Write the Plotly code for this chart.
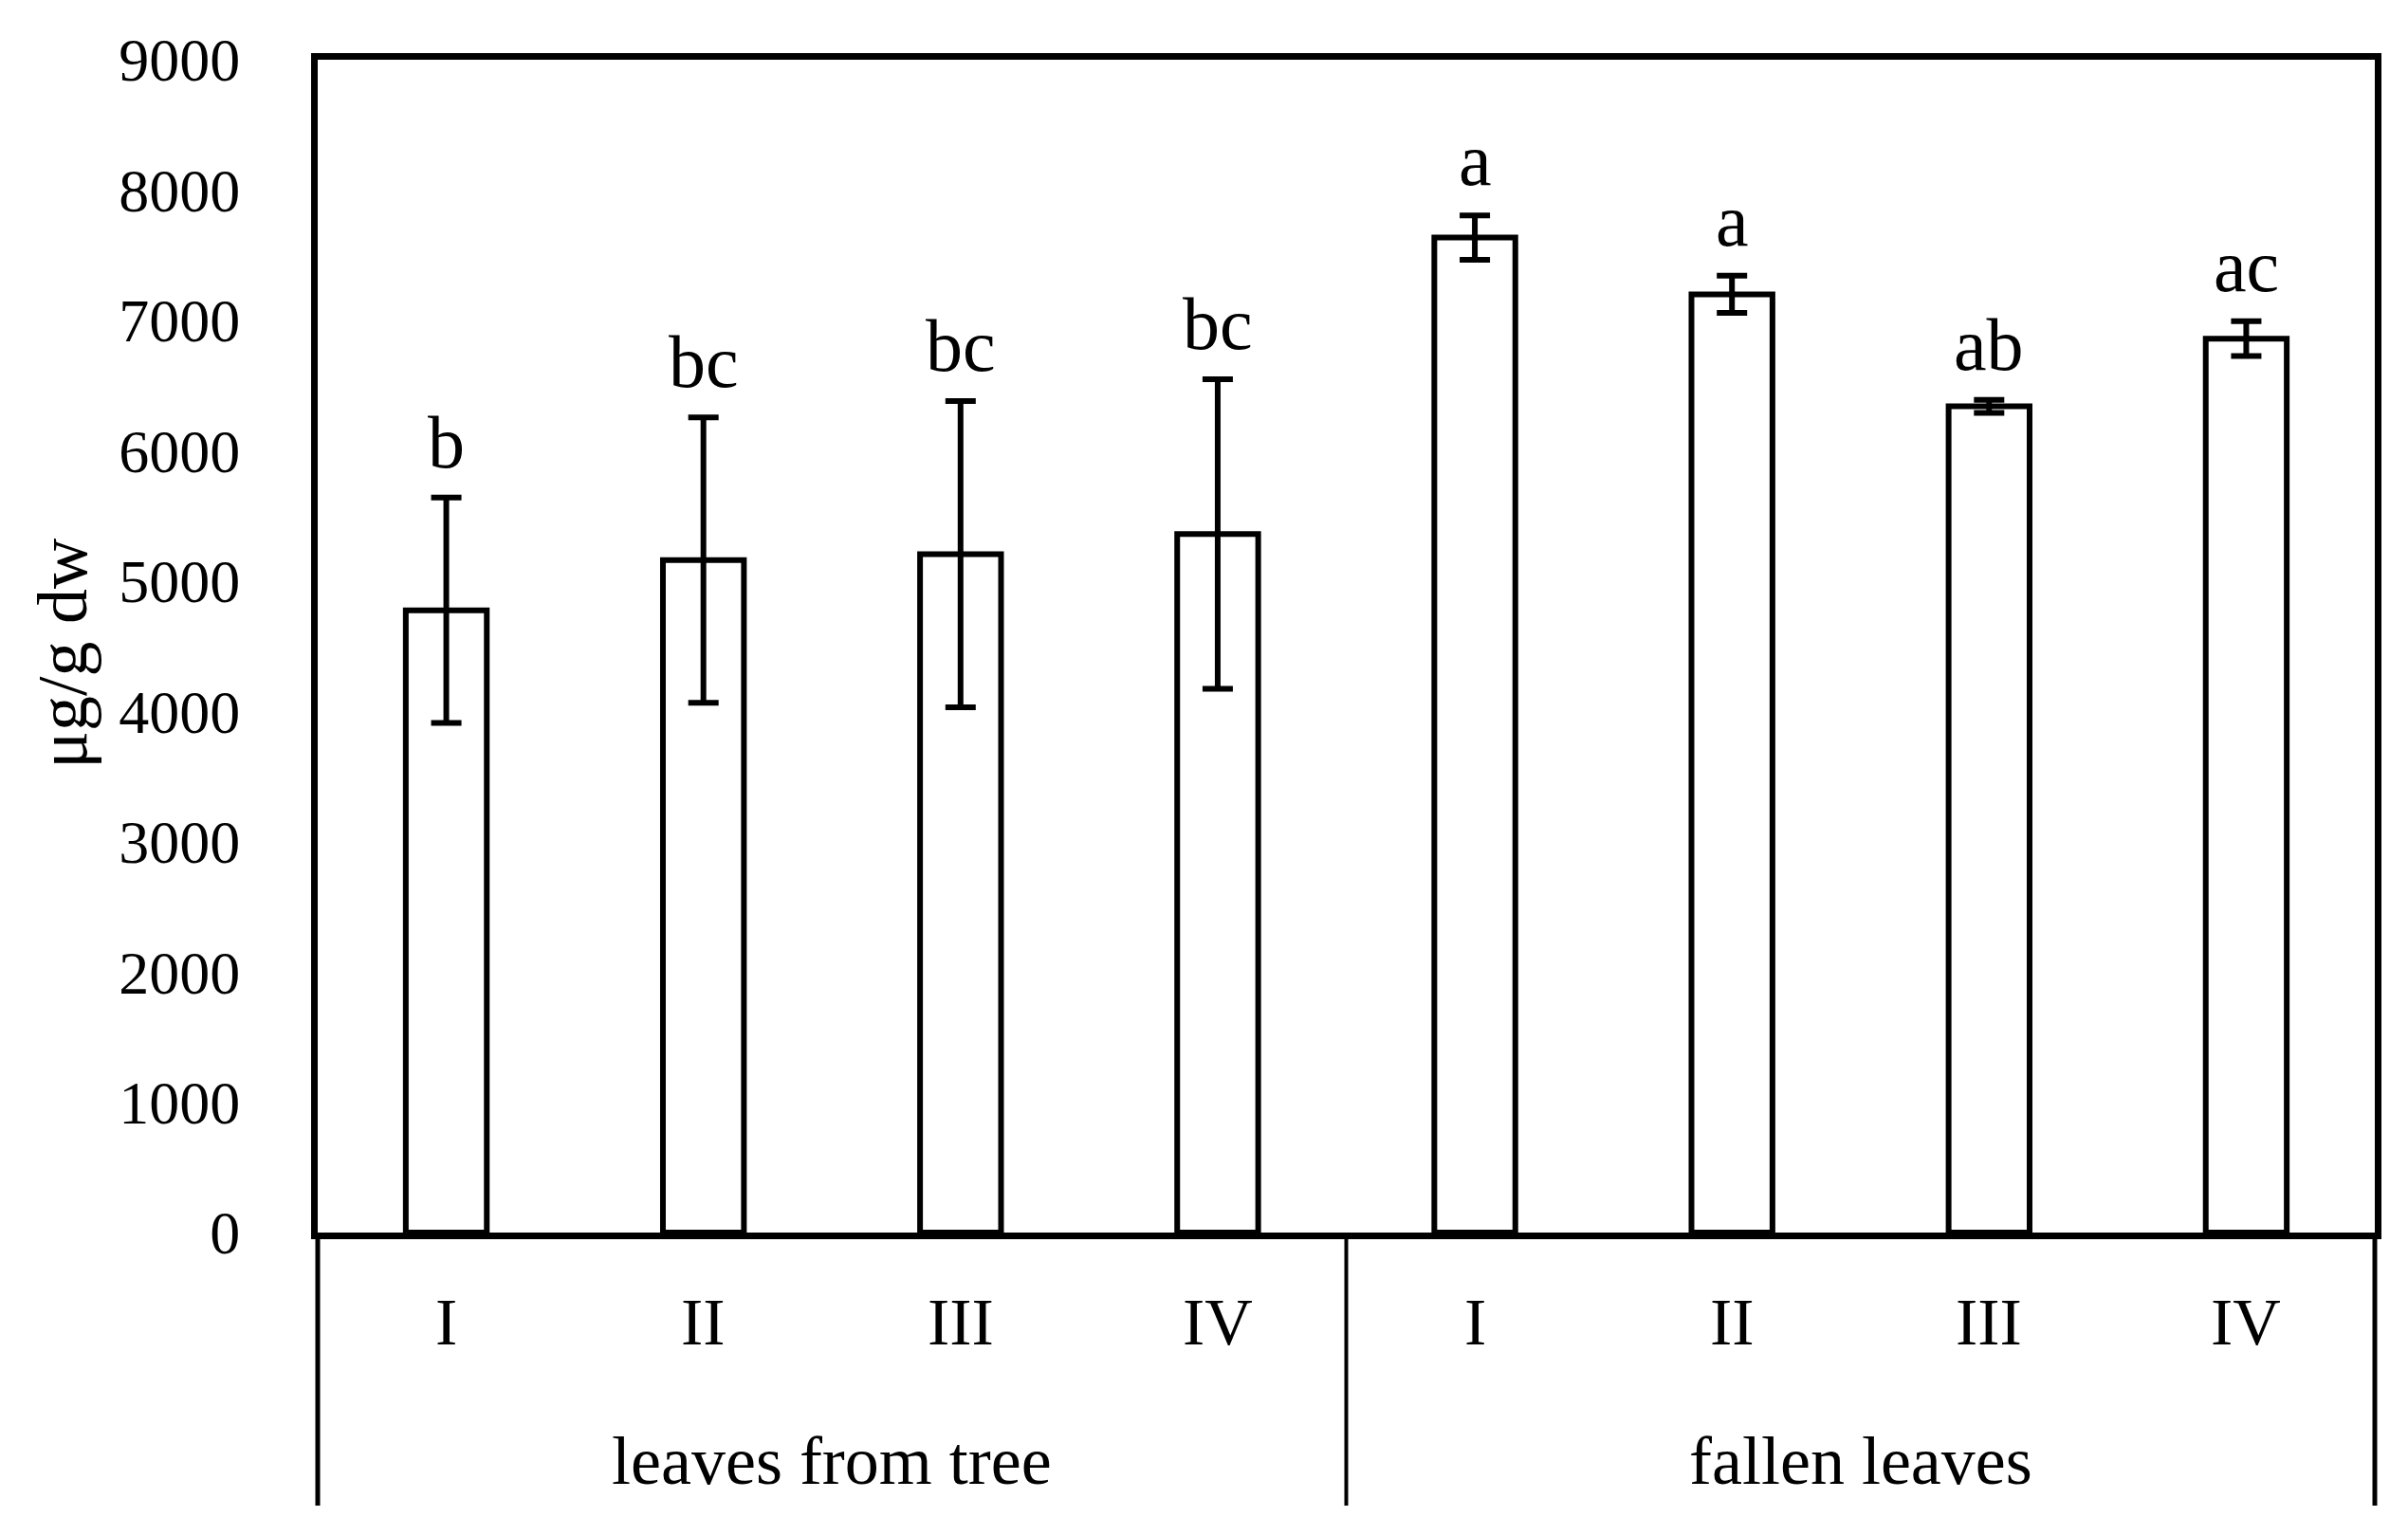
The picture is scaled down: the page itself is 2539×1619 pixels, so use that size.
import plotly.graph_objects as go

# ---- data ----
groups = ["leaves from tree", "fallen leaves"]
stages = ["I", "II", "III", "IV"]
means = [4775, 5160, 5205, 5360, 7635, 7200, 6340, 6860]
errors = [865, 1095, 1175, 1188, 170, 143, 50, 133]
letters = ["b", "bc", "bc", "bc", "a", "a", "ab", "ac"]
y_ticks = [0, 1000, 2000, 3000, 4000, 5000, 6000, 7000, 8000, 9000]

FONT = "Palatino Linotype, Book Antiqua, Palatino, Liberation Serif, serif"

n = len(means)
xs = list(range(n))

fig = go.Figure()
fig.add_trace(go.Bar(
    x=xs, y=means,
    marker=dict(color="white", line=dict(color="black", width=6)),
    error_y=dict(type="data", array=errors, visible=True,
                 color="black", thickness=6, width=16),
    showlegend=False,
))

annotations = []
# significance letters
for i in xs:
    annotations.append(dict(
        x=i, y=means[i] + errors[i], xref="x", yref="y",
        text=letters[i], showarrow=False, yanchor="bottom", yshift=13,
        font=dict(family=FONT, size=78, color="black")))
# stage labels
for gi, g in enumerate(groups):
    for si, s in enumerate(stages):
        annotations.append(dict(
            x=gi * len(stages) + si, y=-0.0765, xref="x", yref="paper",
            text=s, showarrow=False, yanchor="middle",
            font=dict(family=FONT, size=70, color="black")))
    annotations.append(dict(
        x=gi * len(stages) + (len(stages) - 1) / 2, y=-0.1949,
        xref="x", yref="paper", text=g, showarrow=False, yanchor="middle",
        font=dict(family=FONT, size=72, color="black")))
# y axis title
annotations.append(dict(
    x=-0.1241, y=0.494, xref="paper", yref="paper", text="μg/g dw",
    textangle=-90, showarrow=False, xanchor="center", yanchor="middle",
    font=dict(family=FONT, size=74, color="black")))

bottom = -0.2328
shapes = [
    dict(type="line", xref="paper", yref="paper", x0=0, x1=0, y0=0, y1=bottom,
         line=dict(color="black", width=5)),
    dict(type="line", xref="paper", yref="paper", x0=1, x1=1, y0=0, y1=bottom,
         line=dict(color="black", width=5)),
    dict(type="line", xref="x", yref="paper", x0=len(stages) - 0.5, x1=len(stages) - 0.5,
         y0=0, y1=bottom, line=dict(color="black", width=4)),
]

fig.update_layout(
    width=2539, height=1619,
    margin=dict(l=327, r=43, t=55, b=327, pad=0),
    paper_bgcolor="white", plot_bgcolor="white",
    bargap=0.685,
    font=dict(family=FONT, color="black"),
    annotations=annotations,
    shapes=shapes,
    xaxis=dict(range=[-0.5, n - 0.5], showticklabels=False, ticks="",
               showgrid=False, zeroline=False, showline=True, mirror=True,
               linecolor="black", linewidth=7),
    yaxis=dict(range=[0, 9000], tickvals=y_ticks, ticks="",
               showgrid=False, zeroline=False, showline=True, mirror=True,
               linecolor="black", linewidth=7, ticklabelstandoff=62,
               tickfont=dict(family=FONT, size=64, color="black")),
)

fig.write_html("out.html")
